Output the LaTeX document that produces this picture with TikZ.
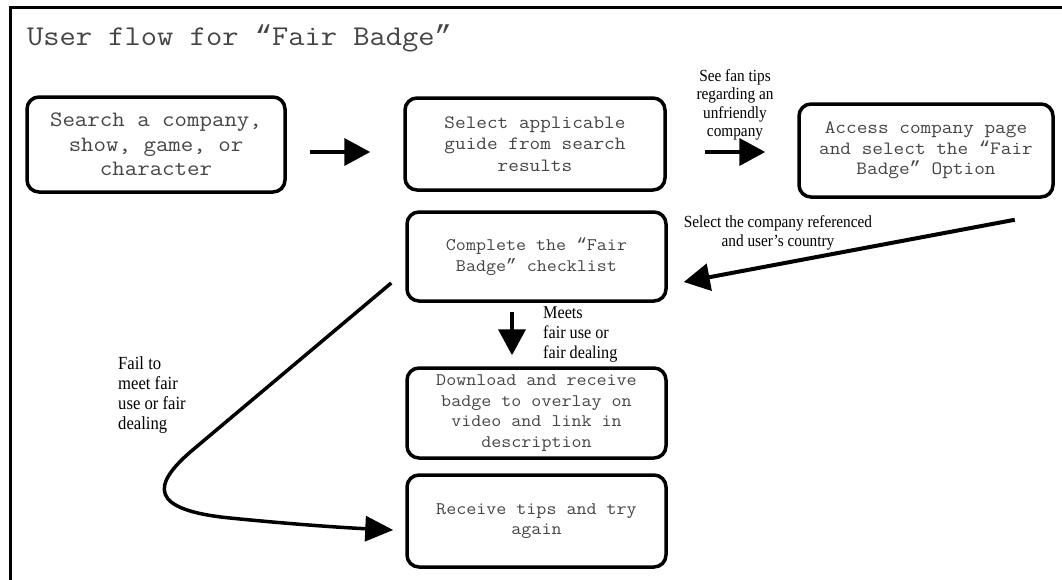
\documentclass[tikz,border=0pt]{standalone}
\usepackage{fontspec}
\setmainfont{Liberation Serif}
\setmonofont[FakeStretch=1.1]{Latin Modern Mono}
\newfontfamily\labfont[FakeStretch=0.9]{Liberation Serif}
\newfontfamily\qtfont{Liberation Mono}
\newcommand\myoq{{\qtfont “}}
\newcommand\mycq{{\qtfont ”}}
\usetikzlibrary{arrows.meta,calc}
\definecolor{txtgray}{HTML}{454545}
\begin{document}
\begin{tikzpicture}[x=1pt,y=-1pt,
  box/.style={draw, line width=3.5pt, rounded corners=12pt, align=center, text=txtgray,
    font=\ttfamily\fontsize{17.7}{20.5}\selectfont, inner sep=0pt,
    minimum width=259pt, minimum height=90pt},
  lab/.style={font=\labfont\fontsize{17}{18.5}\selectfont, align=center, inner sep=0pt},
  arr/.style={line width=4pt, -{Triangle[length=26pt,width=27pt]}}]
\useasboundingbox (0,0) rectangle (1062,579);
\fill[white] (0,0) rectangle (1062,579);
\draw[line width=3pt] (10,580) -- (10,7) -- (1063,7);
\node[anchor=base west, inner sep=0pt, text=txtgray, font=\ttfamily\fontsize{28.7}{32}\selectfont] (title) at (27,45) {User flow for \myoq Fair Badge\mycq};

\node[box, minimum width=258pt, minimum height=95pt, font=\ttfamily\fontsize{22}{24.5}\selectfont] (b1) at (156,144.5) {Search a company,\\show, game, or\\character};
\node[box, minimum width=260pt, minimum height=92pt, font=\ttfamily\fontsize{18.8}{21.5}\selectfont] (b2) at (535,144) {Select applicable\\guide from search\\results};
\node[box, minimum width=254pt, minimum height=93pt, font=\ttfamily\fontsize{18.8}{20.5}\selectfont] (b3) at (926,150.5) {Access company page\\and select the \myoq Fair\\Badge\mycq{} Option};
\node[box, minimum height=89pt] (b4) at (536.5,256.5) {Complete the \myoq Fair\\Badge\mycq{} checklist};
\node[box, minimum height=90pt] (b5) at (536.5,413) {Download and receive\\badge to overlay on\\video and link in\\description};
\node[box, minimum height=92pt] (b6) at (536.5,521) {Receive tips and try\\again};

\node[lab] (l1) at (735,105) {See fan tips\\regarding an\\unfriendly\\company};
\node[lab, font=\labfont\fontsize{17}{19}\selectfont] (l2) at (778,232.5) {Select the company referenced\\and user’s country};
\node[lab, align=left, anchor=west, font=\labfont\fontsize{18}{20}\selectfont] (l3) at (543,335) {Meets\\fair use or\\fair dealing};
\node[lab, align=left, anchor=west, font=\labfont\fontsize{18.5}{20}\selectfont] (l4) at (118,395) {Fail to\\meet fair\\use or fair\\dealing};

\draw[arr, shorten <=23pt, shorten >=33pt] ([yshift=-7.5pt]b1.east) -- ([yshift=-7.5pt]b1.east -| b2.west);
\draw[arr, shorten <=38pt, shorten >=32pt] ([yshift=-8pt]b2.east) -- ([yshift=-8pt]b2.east -| b3.west);
\draw[arr] ($(b3.south east)+(-40,21)$) -- ($(b4.east)+(16,25.5)$);
\draw[arr, shorten <=9pt, shorten >=11pt] ([xshift=-24.5pt]b4.south) -- ([xshift=-24.5pt]b4.south |- b5.north);
\draw[line width=3.5pt, -{Triangle[length=28pt,width=25pt]}] ($(b4.west)+(-14,26.5)$) -- (195,448)
  .. controls (149,486) and (150,510) .. (230,518)
  .. controls (300,525) and (350,528) .. ($(b6.west)+(-12,9)$);
\end{tikzpicture}
\end{document}
